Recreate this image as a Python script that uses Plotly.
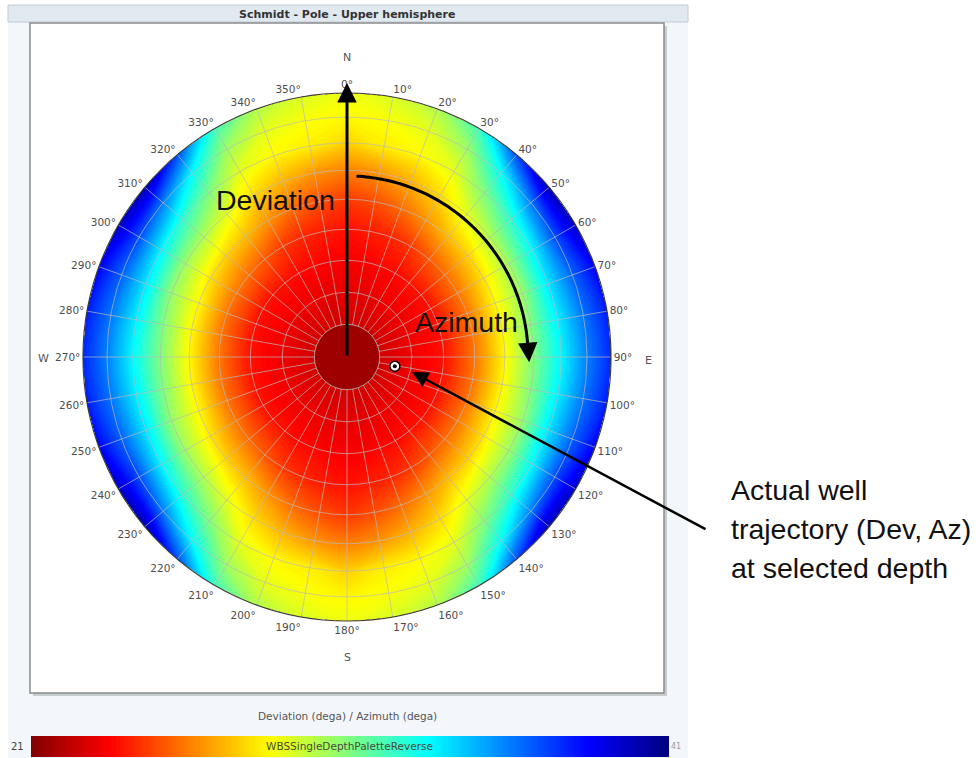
import numpy as np
import plotly.graph_objects as go
from plotly.colors import sample_colorscale

# ---------------------------------------------------------------------------
# Texts
# ---------------------------------------------------------------------------
TITLE = "Schmidt - Pole - Upper hemisphere"
AXIS_CAPTION = "Deviation (dega) / Azimuth (dega)"
PALETTE_NAME = "WBSSingleDepthPaletteReverse"
VALUE_MIN, VALUE_MAX = 21, 41

# Angular ticks (azimuth, degrees) and deviation rings (degrees)
AZ_TICKS = list(range(0, 360, 10))
DEV_RINGS = [10, 20, 30, 40, 50, 60, 70, 80, 90]

# Stability value per deviation ring, one row per azimuth of the N-E quadrant.
# The field is mirror-symmetric about the N-S and E-W axes.
VAL_AZ00 = [22.6, 23.0, 23.4, 23.8, 24.6, 26.0, 27.6, 28.4, 28.8]
VAL_AZ10 = [22.6, 23.0, 23.4, 24.0, 25.0, 26.4, 28.2, 28.6, 29.2]
VAL_AZ20 = [22.6, 23.0, 23.6, 24.2, 25.6, 27.0, 28.4, 29.0, 30.0]
VAL_AZ30 = [22.6, 23.2, 23.6, 24.6, 26.4, 27.8, 29.0, 30.4, 32.2]
VAL_AZ40 = [22.6, 23.2, 23.8, 25.2, 27.2, 29.0, 31.0, 33.4, 37.0]
VAL_AZ50 = [22.6, 23.2, 23.8, 25.6, 27.6, 30.0, 32.6, 36.0, 40.0]
VAL_AZ60 = [22.6, 23.2, 23.8, 25.8, 28.0, 30.4, 33.6, 37.0, 39.6]
VAL_AZ70 = [22.6, 23.2, 23.8, 25.8, 28.4, 30.6, 34.0, 36.6, 38.6]
VAL_AZ80 = [22.6, 23.2, 23.8, 25.8, 28.4, 31.0, 33.8, 36.2, 38.0]
VAL_AZ90 = [22.6, 23.2, 23.8, 25.8, 28.4, 31.0, 33.6, 36.0, 37.8]
CENTER_VALUE = 21.6          # value inside the innermost ring (dev < 10)

# Actual well trajectory at the selected depth
WELL_DEV = 15
WELL_AZ = 101

JET_R = [[0.0, "#800000"], [0.125, "#ff0000"], [0.375, "#ffff00"],
         [0.625, "#00ffff"], [0.875, "#0000ff"], [1.0, "#000080"]]
GRID = "rgba(185,185,185,0.7)"

# ---------------------------------------------------------------------------
# Build the full azimuth grid from the quadrant rows
# ---------------------------------------------------------------------------
quadrant = [VAL_AZ00, VAL_AZ10, VAL_AZ20, VAL_AZ30, VAL_AZ40,
            VAL_AZ50, VAL_AZ60, VAL_AZ70, VAL_AZ80, VAL_AZ90]


def folded(az):
    q = az % 180
    return q if q <= 90 else 180 - q


AZ_GRID = list(range(0, 361, 10))
Z = [[quadrant[folded(az) // 10][j] for az in AZ_GRID] for j in range(len(DEV_RINGS))]


def schmidt_r(dev):
    """Equal-area (Schmidt) radius, normalised so that dev = 90 -> 1."""
    return np.sqrt(2.0) * np.sin(np.radians(dev) / 2.0)


A, B = np.meshgrid(AZ_GRID, DEV_RINGS)
X = schmidt_r(B) * np.sin(np.radians(A))
Y = schmidt_r(B) * np.cos(np.radians(A))

# ---------------------------------------------------------------------------
# Geometry (pixels -> paper)
# ---------------------------------------------------------------------------
W, H = 976, 758
CX, CY, RAD = 347, 357, 264


def px(x):
    return x / W


def py(y):
    return 1 - y / H


x_dom = [px(CX - RAD), px(CX + RAD)]
y_dom = [py(CY + RAD), py(CY - RAD)]

fig = go.Figure()

hidden_carpet_axis = dict(showgrid=False, showline=False, showticklabels="none",
                          startline=False, endline=False, minorgridcount=0,
                          smoothing=0, tickmode="array", tickvals=[])

fig.add_trace(go.Carpet(a=AZ_GRID, b=DEV_RINGS, x=X.tolist(), y=Y.tolist(),
                        carpet="wbs", aaxis=hidden_carpet_axis,
                        baxis=hidden_carpet_axis, xaxis="x", yaxis="y"))

fig.add_trace(go.Contourcarpet(
    a=AZ_GRID, b=DEV_RINGS, z=Z, carpet="wbs",
    autocontour=False,
    contours=dict(start=VALUE_MIN, end=VALUE_MAX, size=0.1,
                  coloring="fill", showlines=False),
    line=dict(width=0),
    colorscale=JET_R, zmin=VALUE_MIN, zmax=VALUE_MAX,
    colorbar=dict(orientation="h", x=px(349), xanchor="center",
                  y=py(757), yanchor="bottom", len=636 / W, lenmode="fraction",
                  thickness=21, thicknessmode="pixels", xpad=0, ypad=0,
                  outlinewidth=0, showticklabels=False, ticks=""),
))

# Innermost ring (deviation < 10 deg)
disk_color = sample_colorscale(JET_R, [(CENTER_VALUE - VALUE_MIN) / (VALUE_MAX - VALUE_MIN)])[0]
theta_c = np.arange(0, 361, 2)
fig.add_trace(go.Scatterpolar(r=[schmidt_r(DEV_RINGS[0])] * len(theta_c), theta=theta_c,
                              mode="lines", fill="toself", fillcolor=disk_color,
                              line=dict(color=GRID, width=1), hoverinfo="skip"))

# Azimuth arc
arc_theta = np.arange(3, 87, 1)
fig.add_trace(go.Scatterpolar(r=[0.686] * len(arc_theta), theta=arc_theta, mode="lines",
                              line=dict(color="black", width=3), hoverinfo="skip"))

# Well position
fig.add_trace(go.Scatterpolar(r=[schmidt_r(WELL_DEV)], theta=[WELL_AZ], mode="markers",
                              marker=dict(size=10, color="white",
                                          line=dict(color="black", width=1.5))))
fig.add_trace(go.Scatterpolar(r=[schmidt_r(WELL_DEV)], theta=[WELL_AZ], mode="markers",
                              marker=dict(size=4, color="black")))

fig.update_layout(
    width=W, height=H, margin=dict(l=0, r=0, t=0, b=0),
    paper_bgcolor="white", plot_bgcolor="rgba(0,0,0,0)", showlegend=False,
    xaxis=dict(domain=x_dom, range=[-1, 1], visible=False),
    yaxis=dict(domain=y_dom, range=[-1, 1], visible=False),
    polar=dict(
        domain=dict(x=x_dom, y=y_dom), bgcolor="rgba(0,0,0,0)",
        radialaxis=dict(range=[0, 1], tickmode="array",
                        tickvals=[float(schmidt_r(d)) for d in DEV_RINGS[:-1]],
                        showticklabels=False, ticks="", showline=False,
                        gridcolor=GRID, gridwidth=1),
        angularaxis=dict(direction="clockwise", rotation=90, tickmode="array",
                         tickvals=AZ_TICKS, ticktext=[f"{a}°" for a in AZ_TICKS],
                         ticks="", showline=True, linecolor="#3a3a3a", linewidth=1.2,
                         gridcolor=GRID, gridwidth=1,
                         tickfont=dict(family="DejaVu Sans", size=10.5, color="#4d4d4d")),
    ),
)

# Panel background, title bar and framed plot box
shapes = [
    dict(type="rect", xref="paper", yref="paper", x0=px(8), x1=px(688), y0=py(758), y1=py(5),
         fillcolor="#F3F6FA", line=dict(width=0), layer="below"),
    dict(type="rect", xref="paper", yref="paper", x0=px(8), x1=px(688), y0=py(22), y1=py(5),
         fillcolor="#E0E8F0", line=dict(color="#C2CCD6", width=1), layer="below"),
    dict(type="rect", xref="paper", yref="paper", x0=px(33), x1=px(667), y0=py(696), y1=py(26),
         fillcolor="#C9CCCF", line=dict(width=0), layer="below"),
    dict(type="rect", xref="paper", yref="paper", x0=px(30), x1=px(664), y0=py(693), y1=py(23),
         fillcolor="white", line=dict(color="#8A8A8A", width=1.5), layer="below"),
]
fig.update_layout(shapes=shapes)

BIG = dict(family="Liberation Sans, Arial", size=28.5, color="#111111")
SMALL = dict(family="DejaVu Sans", size=11, color="#555555")


def label(text, x, y, font, xanchor="center"):
    """Text placed in page pixels."""
    return dict(text=text, x=px(x), y=py(y), xref="paper", yref="paper",
                xanchor=xanchor, yanchor="middle", showarrow=False, font=font)


def arrow(x_tip, y_tip, x_tail, y_tail, width):
    """Arrow in the unit-circle coordinates of the stereonet."""
    return dict(x=x_tip, y=y_tip, ax=x_tail, ay=y_tail, xref="x", yref="y",
                axref="x", ayref="y", text="", showarrow=True, arrowhead=2,
                arrowsize=1.3, arrowwidth=width, arrowcolor="black")


ann = [
    label(f"<b>{TITLE}</b>", 347, 14, dict(family="DejaVu Sans", size=11, color="#333333")),
    label(AXIS_CAPTION, 347, 716, dict(family="DejaVu Sans", size=10.5, color="#555555")),
    label(str(VALUE_MIN), 17, 746, dict(family="DejaVu Sans", size=10, color="#444444")),
    label(str(VALUE_MAX), 676, 746, dict(family="DejaVu Sans", size=8, color="#999999")),
    label(PALETTE_NAME, 349, 746, dict(family="DejaVu Sans", size=10.5, color="#4a4a3a")),
    # compass letters
    label("N", 347, 58, SMALL),
    label("S", 347, 657, SMALL),
    label("E", 648, 360, SMALL),
    label("W", 43, 358, SMALL),
    # deviation arrow
    arrow(0, 1.038, 0, 0, 3),
    label("Deviation", 275, 200, BIG),
    # azimuth arrow head (the arc itself is a polar trace)
    arrow(0.69, -0.02, 0.684, 0.06, 3),
    label("Azimuth", 466, 322, BIG),
    # call-out to the well position
    arrow((412 - CX) / RAD, (CY - 372) / RAD, (707 - CX) / RAD, (CY - 530) / RAD, 2.5),
    label("Actual well", 729, 490, BIG, "left"),
    label("trajectory (Dev, Az)", 729, 529, BIG, "left"),
    label("at selected depth", 729, 568, BIG, "left"),
]
fig.update_layout(annotations=ann)

fig.write_html("out.html")
